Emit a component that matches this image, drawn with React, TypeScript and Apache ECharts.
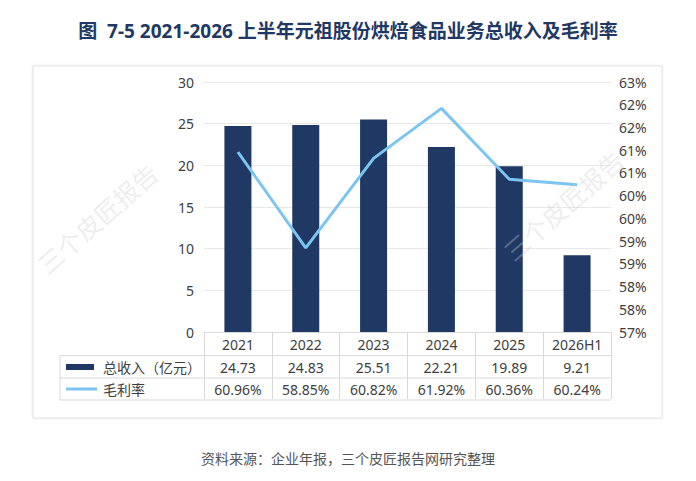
import React, { useEffect, useRef } from 'react'
import * as echarts from 'echarts'

// 数据
const categories = ['2021', '2022', '2023', '2024', '2025', '2026H1']
const revenue = [24.73, 24.83, 25.51, 22.21, 19.89, 9.21]
const grossMargin = [60.96, 58.85, 60.82, 61.92, 60.36, 60.24]
const revenueName = '总收入（亿元）'
const marginName = '毛利率'

const FONT = "'Noto Sans', 'Noto Sans CJK SC', sans-serif"
const NAVY = '#1f3864'
const SKY = '#7cc5f1'
const TEXT = '#404040'
const LINE = '#d9d9d9'

const App: React.FC = () => {
  const ref = useRef<HTMLDivElement>(null)

  useEffect(() => {
    document.body.style.margin = '0'
    if (!ref.current) return
    const chart = echarts.init(ref.current, undefined, { renderer: 'svg' })

    chart.setOption({
      animation: false,
      backgroundColor: '#fff',
      textStyle: { fontFamily: FONT },
      title: {
        text: '图  7-5 2021-2026 上半年元祖股份烘焙食品业务总收入及毛利率',
        left: 'center',
        top: 16,
        textStyle: { fontSize: 19, fontWeight: 'bold', color: NAVY, fontFamily: FONT },
      },
      grid: { left: 204, right: 85, top: 82, bottom: 149 },
      xAxis: {
        type: 'category',
        data: categories,
        axisLine: { lineStyle: { color: LINE } },
        axisTick: { show: true, length: 67, lineStyle: { color: LINE } },
        axisLabel: { color: TEXT, fontSize: 14, margin: 5 },
      },
      yAxis: [
        {
          type: 'value',
          min: 0,
          max: 30,
          interval: 5,
          axisLine: { show: false },
          axisTick: { show: false },
          axisLabel: { color: TEXT, fontSize: 14, margin: 10 },
          splitLine: { lineStyle: { color: '#e8e8e8' } },
        },
        {
          type: 'value',
          min: 57,
          max: 62.5,
          interval: 0.5,
          axisLine: { show: false },
          axisTick: { show: false },
          splitLine: { show: false },
          axisLabel: {
            color: TEXT,
            fontSize: 14,
            margin: 8,
            formatter: (v: number) => `${Math.round(v + 1e-9)}%`,
          },
        },
      ],
      series: [
        {
          name: revenueName,
          type: 'bar',
          data: revenue,
          barWidth: 27,
          itemStyle: { color: NAVY },
        },
        {
          name: marginName,
          type: 'line',
          yAxisIndex: 1,
          data: grossMargin,
          symbol: 'none',
          lineStyle: { color: SKY, width: 3 },
          z: 3,
        },
      ],
    })

    // 数据表：列中心取自坐标轴
    const centers = categories.map(c => chart.convertToPixel({ xAxisIndex: 0 }, c) as number)
    const colW = centers.length > 1 ? centers[1] - centers[0] : 68
    const tableL = 60
    const tableR = centers[centers.length - 1] + colW / 2
    const rowY = [333, 355.5, 378, 400]
    const cellText = (x: number, y: number, text: string, align = 'center') => ({
      type: 'text', x, y, z: 5,
      style: { text, fill: TEXT, fontSize: 14, fontFamily: FONT, align, verticalAlign: 'middle' },
    })
    const hLine = (x1: number, x2: number, y: number) => ({
      type: 'line', z: 5, shape: { x1, y1: y, x2, y2: y }, style: { stroke: LINE, lineWidth: 1 },
    })
    const watermark = (x: number, y: number) => ({
      type: 'text', x, y, rotation: 0.72, z: 20,
      style: {
        text: '三个皮匠报告', fill: 'rgba(205,205,205,0.35)', fontSize: 25,
        fontFamily: "'Noto Sans CJK SC', sans-serif", align: 'center', verticalAlign: 'middle',
      },
    })

    const graphic: any[] = [
      {
        type: 'rect', z: -10, silent: true,
        shape: { x: 33, y: 66, width: 629, height: 352 },
        style: { fill: '#fff', stroke: '#e2e2e2', lineWidth: 1, shadowBlur: 3, shadowColor: 'rgba(0,0,0,0.08)' },
      },
      hLine(tableL, tableR, rowY[1]),
      hLine(tableL, tableR, rowY[2]),
      hLine(tableL, tableR, rowY[3]),
      { type: 'line', z: 5, shape: { x1: tableL, y1: rowY[1], x2: tableL, y2: rowY[3] }, style: { stroke: LINE, lineWidth: 1 } },
      { type: 'rect', z: 5, shape: { x: 66, y: 364, width: 28, height: 6 }, style: { fill: NAVY } },
      { type: 'line', z: 5, shape: { x1: 66, y1: 389, x2: 97, y2: 389 }, style: { stroke: SKY, lineWidth: 3 } },
      cellText(103, 367, revenueName, 'left'),
      cellText(103, 389, marginName, 'left'),
      ...centers.map((cx, i) => cellText(cx, 367, revenue[i].toFixed(2))),
      ...centers.map((cx, i) => cellText(cx, 389, `${grossMargin[i].toFixed(2)}%`)),
      watermark(97, 218),
      watermark(563, 205),
      {
        type: 'text', x: 348, y: 458, z: 5,
        style: {
          text: '资料来源：企业年报，三个皮匠报告网研究整理', fill: '#555', fontSize: 14,
          fontFamily: "'Noto Sans CJK SC', sans-serif", align: 'center', verticalAlign: 'middle',
        },
      },
    ]
    chart.setOption({ graphic })

    return () => chart.dispose()
  }, [])

  return <div ref={ref} style={{ width: 696, height: 481 }} />
}

export default App
